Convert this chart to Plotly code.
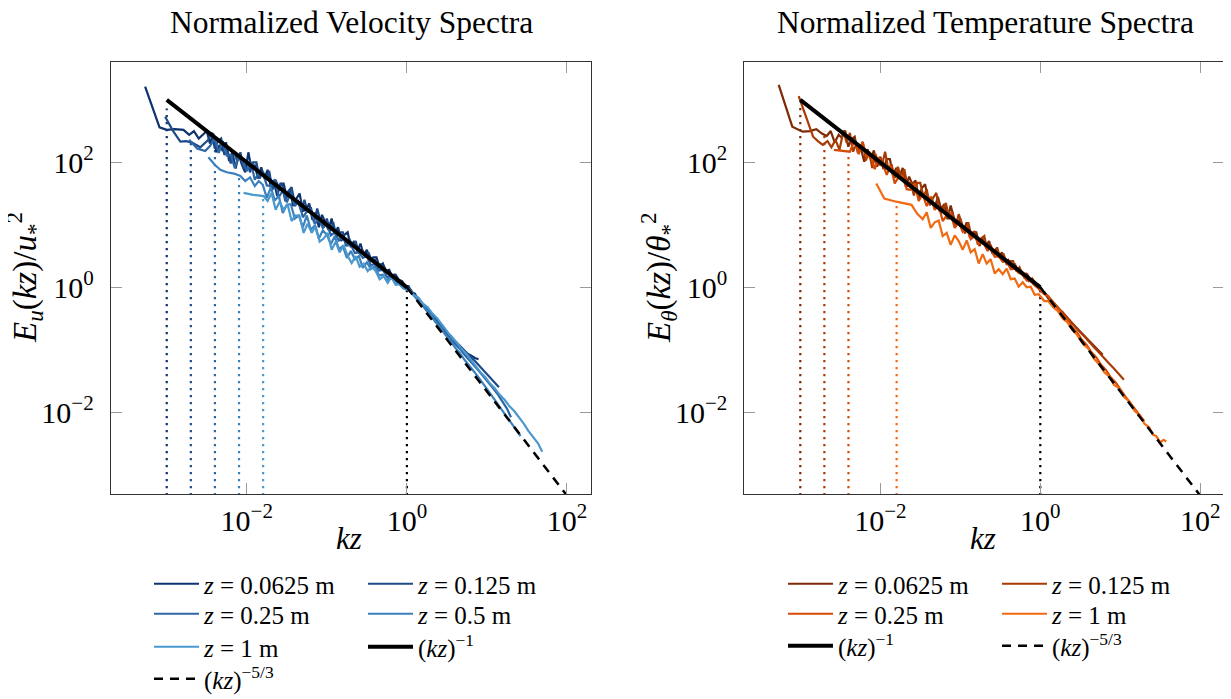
import plotly.graph_objects as go

# ---------------- data (log10 values) ----------------
# Velocity spectra: log10(kz) and log10(E_u / u*^2)
VEL_LABELS = ["0.0625 m", "0.125 m", "0.25 m", "0.5 m", "1 m"]

V1_LX = [-3.27,-3.09,-3.00,-2.90,-2.79,-2.72,-2.66,-2.60,-2.55,
         -2.50,-2.46,-2.42,-2.38,-2.34,-2.30,-2.26,-2.22,-2.18,-2.14,-2.10,-2.06,-2.02,-1.98,-1.94,-1.90,-1.86,-1.82,-1.78,-1.74,
         -1.70,-1.66,-1.62,-1.58,-1.54,-1.50,-1.46,-1.42,-1.38,-1.34,-1.30,-1.26,-1.22,-1.18,-1.14,-1.10,-1.06,-1.02,-0.98,-0.94,
         -0.90,-0.86,-0.82,-0.78,-0.74,-0.70,-0.66,-0.62,-0.58,-0.54,-0.50,-0.46,-0.42,-0.38,-0.34,-0.30,-0.26,-0.22,-0.18,-0.14,
         -0.10,-0.06,-0.02,
         0.02,0.06,0.10,0.15,0.20,0.25,0.30,0.35,0.40,0.45,0.50,0.55,0.60,0.65,0.70,0.75,0.80,0.85,0.895]
V1_LY = [3.21,2.56,2.52,2.53,2.52,2.44,2.50,2.38,2.44,
         2.50,2.30,2.46,2.16,2.28,2.18,2.32,2.02,2.16,1.90,2.12,1.96,1.84,2.16,1.88,1.96,1.74,1.92,1.74,1.88,
         1.60,1.68,1.46,1.66,1.66,1.44,1.56,1.30,1.42,1.50,1.22,1.24,1.34,1.08,1.20,0.96,1.16,1.04,0.92,1.10,
         0.86,0.96,0.74,0.84,0.88,0.64,0.74,0.58,0.70,0.52,0.60,0.42,0.48,0.48,0.32,0.38,0.26,0.28,0.16,0.20,
         0.12,0.10,0.02,
         0.02,-0.08,-0.10,-0.22,-0.28,-0.38,-0.44,-0.54,-0.60,-0.70,-0.76,-0.84,-0.89,-0.96,-1.00,-1.06,-1.09,-1.13,-1.15]

V2_LX = [-3.02,-2.92,-2.83,-2.76,-2.69,-2.63,-2.58,-2.53,
         -2.48,-2.44,-2.40,-2.36,-2.32,-2.28,-2.24,-2.20,-2.16,-2.12,-2.08,-2.04,-2.00,-1.96,-1.92,-1.88,-1.84,-1.80,-1.76,-1.72,
         -1.68,-1.64,-1.60,-1.56,-1.52,-1.48,-1.44,-1.40,-1.36,-1.32,-1.28,-1.24,-1.20,-1.16,-1.12,-1.08,-1.04,-1.00,-0.96,-0.92,
         -0.88,-0.84,-0.80,-0.76,-0.72,-0.68,-0.64,-0.60,-0.56,-0.52,-0.48,-0.44,-0.40,-0.36,-0.32,-0.28,-0.24,-0.20,-0.16,-0.12,
         -0.08,-0.04,
         0.00,0.05,0.10,0.15,0.20,0.25,0.30,0.35,0.40,0.45,0.50,0.55,0.60,0.65,0.70,0.75,0.80,0.85,0.90,0.95,1.00,1.05,1.10,1.15]
V2_LY = [2.73,2.50,2.33,2.34,2.32,2.28,2.24,2.30,
         2.36,2.48,2.22,2.34,2.38,2.12,2.18,1.98,2.18,2.02,2.16,1.90,2.04,1.84,2.00,2.00,1.74,1.86,1.72,1.86,
         1.56,1.72,1.60,1.66,1.38,1.54,1.60,1.34,1.38,1.22,1.40,1.20,1.28,1.04,1.26,1.06,0.96,1.10,0.90,1.04,
         0.80,0.88,0.88,0.66,0.78,0.66,0.74,0.54,0.60,0.48,0.56,0.42,0.44,0.30,0.38,0.26,0.26,0.16,0.20,0.10,
         0.10,0.04,
         -0.02,-0.04,-0.14,-0.18,-0.28,-0.32,-0.42,-0.48,-0.57,-0.63,-0.72,-0.78,-0.86,-0.92,-0.99,-1.05,-1.12,-1.18,-1.25,-1.31,
         -1.38,-1.45,-1.52,-1.60]

V3_LX = [-2.72,-2.62,-2.52,-2.46,
         -2.40,-2.35,-2.30,-2.25,-2.20,-2.15,-2.10,-2.05,-2.00,-1.95,-1.90,-1.85,-1.80,-1.75,-1.70,-1.65,-1.60,-1.55,-1.50,-1.45,
         -1.40,-1.35,-1.30,-1.25,-1.20,-1.15,-1.10,-1.05,-1.00,-0.95,-0.90,-0.85,-0.80,-0.75,-0.70,-0.65,-0.60,-0.55,-0.50,-0.45,
         -0.40,-0.35,-0.30,-0.25,-0.20,-0.15,-0.10,-0.05,
         0.00,0.06,0.12,0.18,0.24,0.30,0.36,0.42,0.48,0.54,0.60,0.66,0.72,0.78,0.84,0.90,0.96,1.02,1.08,1.14,1.20,1.25,1.30]
V3_LY = [2.36,2.22,2.18,2.26,
         2.38,2.15,2.34,2.11,2.12,1.91,2.10,2.01,1.86,2.01,1.72,1.83,1.84,1.63,1.62,1.73,1.44,1.55,1.36,1.51,
         1.30,1.37,1.12,1.21,1.24,1.01,1.10,0.95,1.02,0.83,0.88,0.75,0.80,0.67,0.68,0.55,0.56,0.47,0.50,0.35,
         0.38,0.27,0.28,0.17,0.16,0.09,0.06,0.00,
         -0.02,-0.08,-0.18,-0.26,-0.36,-0.44,-0.54,-0.62,-0.72,-0.80,-0.90,-0.98,-1.08,-1.16,-1.25,-1.34,-1.43,-1.52,-1.62,-1.72,
         -1.84,-1.94,-2.08]

V4_LX = [-2.48,-2.40,-2.33,-2.25,-2.16,-2.08,-2.02,-1.96,-1.90,-1.85,
         -1.80,-1.75,-1.70,-1.65,-1.60,-1.55,-1.50,-1.45,-1.40,-1.35,-1.30,-1.25,-1.20,-1.15,-1.10,-1.05,-1.00,-0.95,-0.90,-0.85,
         -0.80,-0.75,-0.70,-0.65,-0.60,-0.55,-0.50,-0.45,-0.40,-0.35,-0.30,-0.25,-0.20,-0.15,-0.10,-0.05,
         0.00,0.06,0.12,0.18,0.24,0.30,0.36,0.42,0.48,0.54,0.60,0.66,0.72,0.78,0.84,0.90,0.96,1.02,1.08,1.14,1.20,1.26,1.32,1.37,
         1.42]
V4_LY = [2.08,1.96,1.88,1.84,1.82,1.78,1.70,1.76,1.62,1.70,
         1.64,1.43,1.60,1.39,1.46,1.19,1.32,1.33,1.10,1.15,0.96,1.15,0.92,0.99,0.78,0.91,0.84,0.69,0.82,0.61,
         0.66,0.47,0.58,0.45,0.50,0.31,0.40,0.29,0.34,0.19,0.20,0.11,0.18,0.07,0.06,-0.01,
         -0.04,-0.08,-0.18,-0.26,-0.36,-0.44,-0.56,-0.64,-0.76,-0.84,-0.96,-1.05,-1.16,-1.25,-1.35,-1.45,-1.55,-1.66,-1.77,-1.88,
         -1.98,-2.09,-2.20,-2.29,-2.38]

V5_LX = [-2.04,-1.92,-1.79,
         -1.74,-1.69,-1.64,-1.59,-1.54,-1.49,-1.44,-1.39,-1.34,-1.29,-1.24,-1.19,-1.14,-1.09,-1.04,-0.99,-0.94,-0.89,-0.84,-0.79,
         -0.74,-0.69,-0.64,-0.59,-0.54,-0.49,-0.44,-0.39,-0.34,-0.29,-0.24,-0.19,-0.14,-0.09,-0.04,
         0.02,0.08,0.14,0.20,0.26,0.32,0.38,0.44,0.50,0.56,0.62,0.68,0.74,0.80,0.86,0.92,0.98,1.04,1.10,1.16,1.22,1.28,1.34,1.40,
         1.46,1.52,1.58,1.64,1.69]
V5_LY = [1.51,1.48,1.46,
         1.38,1.51,1.24,1.37,1.24,1.33,1.06,1.15,1.14,0.87,1.02,0.87,0.98,0.73,0.78,0.87,0.60,0.73,0.56,0.67,
         0.50,0.39,0.50,0.33,0.38,0.26,0.33,0.26,0.13,0.18,0.07,0.17,0.04,0.05,-0.02,
         -0.02,-0.12,-0.16,-0.26,-0.32,-0.42,-0.50,-0.60,-0.70,-0.80,-0.88,-0.98,-1.06,-1.16,-1.26,-1.36,-1.44,-1.54,-1.62,-1.72,
         -1.80,-1.90,-1.98,-2.08,-2.18,-2.30,-2.40,-2.50,-2.63]

# Temperature spectra: log10(kz) and log10(E_theta / theta*^2)
TEMP_LABELS = ["0.0625 m", "0.125 m", "0.25 m", "1 m"]

T1_LX = [-3.27,-3.10,-2.97,-2.88,-2.80,-2.73,-2.67,-2.62,-2.57,-2.52,
         -2.48,-2.44,-2.40,-2.36,-2.32,-2.28,-2.24,-2.20,-2.16,-2.12,-2.08,-2.04,-2.00,-1.96,-1.92,-1.88,-1.84,-1.80,-1.76,-1.72,
         -1.68,-1.64,-1.60,-1.56,-1.52,-1.48,-1.44,-1.40,-1.36,-1.32,-1.28,-1.24,-1.20,-1.16,-1.12,-1.08,-1.04,-1.00,-0.96,-0.92,
         -0.88,-0.84,-0.80,-0.76,-0.72,-0.68,-0.64,-0.60,-0.56,-0.52,-0.48,-0.44,-0.40,-0.36,-0.32,-0.28,-0.24,-0.20,-0.16,-0.12,
         -0.08,-0.04,
         0.00,0.05,0.10,0.16,0.22,0.28,0.34,0.40,0.46,0.52,0.58,0.64,0.70,0.74,0.78]
T1_LY = [3.24,2.57,2.49,2.50,2.53,2.46,2.42,2.50,2.32,2.44,
         2.39,2.51,2.25,2.37,2.41,2.15,2.21,2.01,2.21,2.05,2.19,1.93,2.09,1.89,2.05,2.05,1.79,1.91,1.77,1.91,
         1.61,1.77,1.65,1.71,1.43,1.59,1.65,1.39,1.43,1.27,1.45,1.25,1.33,1.09,1.31,1.11,1.01,1.10,0.90,1.04,
         0.80,0.88,0.88,0.66,0.78,0.66,0.74,0.54,0.60,0.48,0.56,0.42,0.44,0.30,0.38,0.26,0.26,0.16,0.20,0.10,
         0.10,0.04,
         -0.06,-0.08,-0.18,-0.24,-0.34,-0.40,-0.50,-0.58,-0.66,-0.74,-0.82,-0.90,-0.98,-1.03,-1.08]

T2_LX = [-3.02,-2.93,-2.84,-2.78,-2.72,-2.66,-2.61,-2.56,-2.51,
         -2.46,-2.42,-2.38,-2.34,-2.30,-2.26,-2.22,-2.18,-2.14,-2.10,-2.06,-2.02,-1.98,-1.94,-1.90,-1.86,-1.82,-1.78,-1.74,-1.70,
         -1.66,-1.62,-1.58,-1.54,-1.50,-1.46,-1.42,-1.38,-1.34,-1.30,-1.26,-1.22,-1.18,-1.14,-1.10,-1.06,-1.02,-0.98,-0.94,-0.90,
         -0.86,-0.82,-0.78,-0.74,-0.70,-0.66,-0.62,-0.58,-0.54,-0.50,-0.46,-0.42,-0.38,-0.34,-0.30,-0.26,-0.22,-0.18,-0.14,-0.10,
         -0.06,-0.02,
         0.03,0.08,0.14,0.20,0.26,0.32,0.38,0.44,0.50,0.56,0.62,0.68,0.74,0.80,0.86,0.92,0.98,1.045]
T2_LY = [3.06,2.72,2.41,2.34,2.28,2.34,2.24,2.36,2.20,
         2.51,2.31,2.47,2.17,2.29,2.19,2.33,2.03,2.17,1.91,2.13,1.97,1.95,2.17,1.89,1.97,1.75,1.93,1.75,1.89,
         1.61,1.69,1.47,1.67,1.67,1.45,1.57,1.31,1.43,1.51,1.23,1.25,1.35,1.09,1.21,0.97,1.17,1.00,0.86,1.04,
         0.80,0.90,0.68,0.78,0.82,0.58,0.68,0.52,0.64,0.46,0.54,0.36,0.42,0.42,0.26,0.32,0.20,0.22,0.10,0.14,
         0.06,0.04,
         -0.06,-0.12,-0.21,-0.29,-0.38,-0.46,-0.55,-0.63,-0.72,-0.80,-0.89,-0.97,-1.05,-1.14,-1.22,-1.30,-1.39,-1.48]

T3_LX = [-2.58,-2.48,-2.38,
         -2.32,-2.27,-2.22,-2.17,-2.12,-2.07,-2.02,-1.97,-1.92,-1.87,-1.82,-1.77,-1.72,-1.67,-1.62,-1.57,-1.52,-1.47,-1.42,-1.37,
         -1.32,-1.27,-1.22,-1.17,-1.12,-1.07,-1.02,-0.97,-0.92,-0.87,-0.82,-0.77,-0.72,-0.67,-0.62,-0.57,-0.52,-0.47,-0.42,-0.37,
         -0.32,-0.27,-0.22,-0.17,-0.12,-0.07,-0.02,
         0.04,0.10,0.16,0.22,0.28,0.34,0.40,0.46,0.52,0.58,0.64,0.70,0.76,0.82,0.88,0.94,1.00,1.06,1.12,1.18,1.24,1.30]
T3_LY = [2.20,2.19,2.17,
         2.36,2.13,2.32,2.09,2.10,1.89,2.08,1.99,1.80,1.95,1.66,1.77,1.78,1.57,1.56,1.67,1.38,1.49,1.30,1.45,
         1.24,1.31,1.06,1.15,1.18,0.95,1.04,0.89,0.96,0.77,0.82,0.69,0.74,0.61,0.62,0.49,0.50,0.41,0.42,0.29,
         0.30,0.23,0.20,0.11,0.10,0.03,-0.02,
         -0.10,-0.14,-0.26,-0.32,-0.44,-0.52,-0.64,-0.72,-0.84,-0.92,-1.04,-1.12,-1.24,-1.32,-1.44,-1.52,-1.64,-1.74,-1.84,-1.94,
         -2.04,-2.14]

T4_LX = [-2.05,-1.95,-1.80,-1.70,-1.61,-1.54,
         -1.47,-1.42,-1.37,-1.32,-1.27,-1.22,-1.17,-1.12,-1.07,-1.02,-0.97,-0.92,-0.87,-0.82,-0.77,-0.72,-0.67,-0.62,-0.57,-0.52,
         -0.47,-0.42,-0.37,-0.32,-0.27,-0.22,-0.17,-0.12,-0.07,-0.02,
         0.05,0.10,0.16,0.22,0.28,0.34,0.40,0.46,0.53,0.60,0.67,0.74,0.80,0.86,0.92,0.99,1.05,1.11,1.18,1.24,1.30,1.36,1.41,1.45,
         1.50,1.54,1.575]
T4_LY = [1.66,1.42,1.37,1.35,1.32,1.18,
         1.09,1.20,0.95,1.04,1.07,0.82,0.87,0.68,0.83,0.74,0.60,0.75,0.56,0.61,0.38,0.53,0.38,0.45,0.22,0.29,
         0.21,0.30,0.13,0.14,0.01,0.08,0.00,0.01,-0.12,-0.11,
         -0.22,-0.22,-0.32,-0.38,-0.50,-0.56,-0.68,-0.76,-0.90,-0.98,-1.14,-1.24,-1.36,-1.42,-1.56,-1.62,-1.76,-1.82,-1.98,-2.04,
         -2.18,-2.24,-2.36,-2.38,-2.48,-2.44,-2.47]

# reference slopes
REF1_KZ = [1e-3, 1.0]
REF1_E = [1e3, 1.0]
REF53_KZ = [1.0, 1e2]
REF53_E = [1.0, 4.64e-4]

# vertical markers: kz at the start of each record, drawn up to where the spectrum begins
VEL_MARK_KZ = [0.001, 0.002, 0.004, 0.008, 0.016]
VEL_MARK_TOP = [724, 209, 158, 60, 29]
TEMP_MARK_KZ = [0.001, 0.002, 0.004, 0.016]
TEMP_MARK_TOP = [776, 316, 138, 22]
UNIT_MARK_KZ = [1.0]
UNIT_MARK_TOP = [1.0]
AXIS_FLOOR = 1e-4

TICK_VALS = [1e-2, 1, 1e2]
TICK_TEXT = ["10<sup>\u22122</sup>", "10<sup>0</sup>", "10<sup>2</sup>"]

# ---------------- style / layout ----------------
BLUES = ["#0d3370", "#1d4b89", "#2c66a4", "#3b80bd", "#4a98cd"]
ORANGES = ["#7f2a06", "#a93b04", "#d44a06", "#f06a12"]
FONT = "Liberation Serif"
W, H = 1231, 699
OFF = 8  # page body margin


def fx(px):
    return (px - OFF) / W


def fy(py):
    return 1 - (py - OFF) / H


def pw(lst):
    return [10 ** v for v in lst]


vel_series = [(V1_LX, V1_LY), (V2_LX, V2_LY), (V3_LX, V3_LY), (V4_LX, V4_LY), (V5_LX, V5_LY)]
temp_series = [(T1_LX, T1_LY), (T2_LX, T2_LY), (T3_LX, T3_LY), (T4_LX, T4_LY)]
for a, b in vel_series + temp_series:
    assert len(a) == len(b), (len(a), len(b))

# legend rows (two entries per row, like the reference)
VEL_LEG = ["legend", "legend", "legend3", "legend3", "legend4", "legend4", "legend5"]
TEMP_LEG = ["legend2", "legend2", "legend6", "legend6", "legend7", "legend7"]

fig = go.Figure()


def add_panel(series, labels, colors, marks, tops, xa, ya, legs):
    for kz, top, c in zip(marks, tops, colors):
        fig.add_trace(go.Scatter(x=[kz, kz], y=[AXIS_FLOOR, top], mode="lines",
                                 line=dict(color=c, width=2.2, dash="2.4px,4.6px"),
                                 showlegend=False, hoverinfo="skip", xaxis=xa, yaxis=ya))
    for kz, top in zip(UNIT_MARK_KZ, UNIT_MARK_TOP):
        fig.add_trace(go.Scatter(x=[kz, kz], y=[AXIS_FLOOR, top], mode="lines",
                                 line=dict(color="black", width=2.2, dash="2.4px,4.6px"),
                                 showlegend=False, hoverinfo="skip", xaxis=xa, yaxis=ya))
    i = 0
    for (lx, ly), lab, c in zip(series, labels, colors):
        name = "<i>z</i> = " + lab
        fig.add_trace(go.Scatter(x=pw(lx), y=pw(ly), mode="lines", name=name,
                                 line=dict(color=c, width=2.2), legend=legs[i],
                                 xaxis=xa, yaxis=ya))
        i += 1
    fig.add_trace(go.Scatter(x=REF1_KZ, y=REF1_E, mode="lines", name="(<i>kz</i>)<sup>\u22121</sup>",
                             line=dict(color="black", width=4), legend=legs[i], xaxis=xa, yaxis=ya))
    fig.add_trace(go.Scatter(x=REF53_KZ, y=REF53_E, mode="lines", name="(<i>kz</i>)<sup>\u22125/3</sup>",
                             line=dict(color="black", width=2.5, dash="9px,7px"), legend=legs[i + 1],
                             xaxis=xa, yaxis=ya))


add_panel(vel_series, VEL_LABELS, BLUES, VEL_MARK_KZ, VEL_MARK_TOP, "x", "y", VEL_LEG)
add_panel(temp_series, TEMP_LABELS, ORANGES, TEMP_MARK_KZ, TEMP_MARK_TOP, "x2", "y2", TEMP_LEG)

axis_common = dict(type="log", showline=True, linecolor="#333333", linewidth=1, mirror="ticks",
                   ticks="inside", ticklen=11, tickcolor="#9a9a9a", tickwidth=1,
                   showgrid=False, zeroline=False, tickvals=TICK_VALS, ticktext=TICK_TEXT,
                   tickfont=dict(family=FONT, size=30, color="black"))


def leg(x_left, row_center):
    return dict(orientation="h", xanchor="left", yanchor="top",
                x=fx(x_left), y=fy(row_center - 22),
                entrywidth=154, itemwidth=45, font=dict(family=FONT, size=25, color="black"),
                bgcolor="rgba(0,0,0,0)")


XD1 = [fx(110.7), fx(591)]
XD2 = [fx(744.3), fx(1224.3)]
YD = [fy(494), fy(62)]

fig.update_layout(
    width=W, height=H, autosize=False,
    margin=dict(l=0, r=0, t=0, b=0, autoexpand=False),
    paper_bgcolor="white", plot_bgcolor="white",
    font=dict(family=FONT, color="black"),
    xaxis=dict(domain=XD1, range=[-3.7, 2.3], anchor="y", **axis_common),
    yaxis=dict(domain=YD, range=[-3.307, 3.605], anchor="x", ticklabelstandoff=10, **axis_common),
    xaxis2=dict(domain=XD2, range=[-3.7, 2.3], anchor="y2", **axis_common),
    yaxis2=dict(domain=YD, range=[-3.307, 3.605], anchor="x2", ticklabelstandoff=10, **axis_common),
    legend=leg(149, 583),
    legend3=leg(149, 613),
    legend4=leg(149, 646),
    legend5=leg(149, 678),
    legend2=leg(783, 583),
    legend6=leg(783, 613),
    legend7=leg(783, 645),
    showlegend=True,
)

ann = [
    dict(text="Normalized Velocity Spectra", x=fx(351), y=fy(22), size=31.5),
    dict(text="Normalized Temperature Spectra", x=fx(985), y=fy(22), size=31.5),
    dict(text="<i>kz</i>", x=fx(349), y=fy(538), size=31),
    dict(text="<i>kz</i>", x=fx(983), y=fy(538), size=31),
]
for a in ann:
    fig.add_annotation(text=a["text"], x=a["x"], y=a["y"], xref="paper", yref="paper",
                       xanchor="center", yanchor="middle", showarrow=False,
                       font=dict(family=FONT, size=a["size"], color="black"))
fig.add_annotation(text="<i>E<sub>u</sub></i>(<i>kz</i>)/<i>u</i><sub>*</sub><sup>2</sup>",
                   x=fx(24), y=fy(278), xref="paper", yref="paper", textangle=-90,
                   xanchor="center", yanchor="middle", showarrow=False,
                   font=dict(family=FONT, size=33, color="black"))
fig.add_annotation(text="<i>E<sub>\u03b8</sub></i>(<i>kz</i>)/<i>\u03b8</i><sub>*</sub><sup>2</sup>",
                   x=fx(658), y=fy(278), xref="paper", yref="paper", textangle=-90,
                   xanchor="center", yanchor="middle", showarrow=False,
                   font=dict(family=FONT, size=33, color="black"))

fig.write_html("out.html")
